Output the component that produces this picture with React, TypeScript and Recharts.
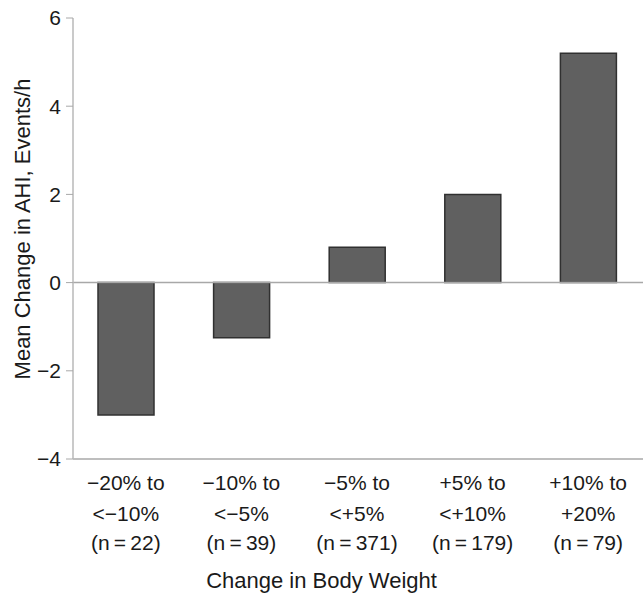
import { BarChart, Bar, XAxis, YAxis, ReferenceLine } from 'recharts'

// body weight change groups (three-line tick labels)
const rangeFrom = ['\u221220% to', '\u221210% to', '\u22125% to', '+5% to', '+10% to']
const rangeTo = ['<\u221210%', '<\u22125%', '<+5%', '<+10%', '+20%']
const counts = [22, 39, 371, 179, 79]
// mean change in AHI, events/h
const ahiChange = [-3.0, -1.25, 0.8, 2.0, 5.2]
const yTicks = [-4, -2, 0, 2, 4, 6]

const W = 643
const H = 594
const FONT = '"Liberation Sans", Arial, sans-serif'

const data = rangeFrom.map((r, i) => ({ name: r, idx: i, value: ahiChange[i] }))

function GroupTick(props: any) {
  const { x, y, index } = props
  return (
    <text x={x} y={y} textAnchor="middle" fontFamily={FONT} fontSize={21} fill="#1a1a1a">
      <tspan x={x} dy={31}>{rangeFrom[index]}</tspan>
      <tspan x={x} dy={31}>{rangeTo[index]}</tspan>
      <tspan x={x} dy={29}>{`(n\u2009=\u2009${counts[index]})`}</tspan>
    </text>
  )
}

export default function App() {
  return (
    <div style={{ width: W, height: H, background: '#fff' }}>
      <style>{'body{margin:0}'}</style>
      <BarChart width={W} height={H} data={data} margin={{ top: 18, right: -3, bottom: 0, left: 0 }}>
        <XAxis
          dataKey="name"
          height={135}
          padding={{ left: -5, right: 0 }}
          tickLine={false}
          tickSize={0}
          tickMargin={0}
          axisLine={{ stroke: '#a8a8a8', strokeWidth: 1.5 }}
          tick={<GroupTick />}
          interval={0}
          label={{
            content: (p: any) => (
              <text x={W / 2} y={p.viewBox.y + 129} textAnchor="middle" fontFamily={FONT} fontSize={22} fill="#1a1a1a">
                Change in Body Weight
              </text>
            ),
          }}
        />
        <YAxis
          width={73}
          domain={[-4, 6]}
          ticks={yTicks}
          tickFormatter={(v: number) => (v < 0 ? `\u2212${-v}` : `${v}`)}
          tick={{ fontFamily: FONT, fontSize: 21, fill: '#1a1a1a' }}
          tickSize={7}
          tickMargin={5}
          tickLine={{ stroke: '#a8a8a8' }}
          axisLine={{ stroke: '#b8b8b8', strokeWidth: 1.5 }}
          label={{
            content: (p: any) => (
              <text
                x={22}
                y={229}
                transform="rotate(-90 22 229)"
                textAnchor="middle"
                dominantBaseline="central"
                fontFamily={FONT}
                fontSize={22}
                fill="#1a1a1a"
              >
                Mean Change in AHI, Events/h
              </text>
            ),
          }}
        />
        <ReferenceLine y={0} stroke="#a8a8a8" strokeWidth={1.5} />
        <Bar dataKey="value" barSize={56} fill="#606060" stroke="#303030" strokeWidth={1.5} isAnimationActive={false} />
      </BarChart>
    </div>
  )
}
